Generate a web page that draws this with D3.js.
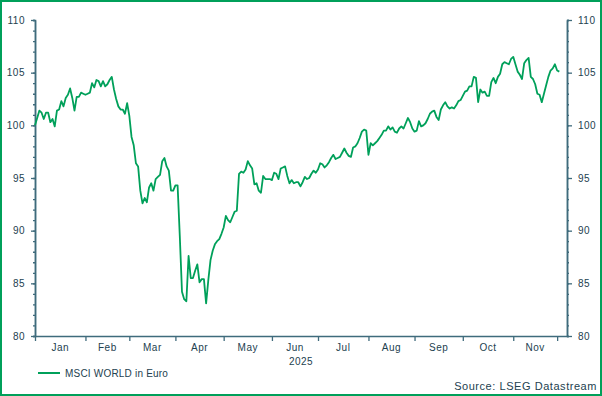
<!DOCTYPE html>
<html>
<head>
<meta charset="utf-8">
<script src="https://cdn.jsdelivr.net/npm/d3@7"></script>
<style>
  body { margin: 0; background: #fff; }
  svg { display: block; font-family: "Liberation Sans", Arial, sans-serif; }
  .tick text { fill: #23414f; font-size: 10px; letter-spacing: 0.5px; }
  .label { fill: #23414f; font-size: 10px; letter-spacing: 0.5px; }
</style>
</head>
<body>
<svg id="chart" width="602" height="396"></svg>
<script>
// MSCI World in Euro, one value per trading day (weekdays) starting 1 Jan 2025
const values = [
  100.0, 100.7, 101.4, 101.2, 100.6, 101.2, 101.2, 100.3, 100.6, 99.9,
  101.4, 101.5, 102.3, 101.8, 102.6, 102.9, 103.5, 102.6, 101.4, 102.7,
  102.7, 103.1, 103.0, 102.9, 103.0, 103.1, 104.0, 103.6, 104.3, 104.2,
  103.7, 104.2, 103.7, 103.9, 104.3, 104.6, 103.4, 102.5, 101.8, 101.5,
  101.5, 101.1, 102.1, 100.9, 98.9, 98.1, 96.4, 96.1, 93.8, 92.6,
  93.1, 92.7, 94.1, 94.5, 93.8, 94.9, 95.1, 95.3, 96.6, 96.9,
  96.1, 95.7, 93.8, 93.8, 94.3, 94.3, 89.5, 84.2, 83.5, 83.3,
  87.6, 85.5, 85.5, 86.2, 86.8, 85.1, 85.4, 85.4, 83.1, 85.3,
  87.2, 88.1, 88.7, 89.0, 89.2, 89.7, 90.3, 91.4, 91.0, 90.8,
  91.3, 91.8, 91.9, 95.4, 95.6, 95.5, 95.8, 96.6, 96.2, 95.9,
  94.4, 94.5, 93.8, 93.6, 95.2, 94.9, 94.9, 94.9, 94.8, 95.5,
  95.4, 94.9, 95.9, 96.0, 96.1, 95.2, 94.5, 94.8, 94.5, 94.6,
  94.6, 94.2, 94.6, 95.1, 94.9, 95.0, 95.4, 95.7, 95.5, 95.8,
  96.4, 96.3, 96.0, 96.2, 96.5, 96.9, 97.2, 96.8, 96.9, 97.0,
  97.4, 97.8, 97.4, 97.1, 97.0, 97.9, 98.0, 98.3, 98.8, 99.4,
  99.6, 99.5, 97.2, 98.3, 98.1, 98.3, 98.5, 98.8, 99.1, 99.5,
  99.5, 99.9, 99.6, 99.8, 99.4, 99.3, 99.7, 99.9, 99.7, 100.2,
  100.7, 100.3, 99.7, 99.4, 99.5, 100.4, 99.9, 100.0, 100.2, 100.6,
  101.1, 101.3, 101.4, 100.8, 100.5, 101.5, 101.9, 102.2, 101.8, 101.6,
  101.7, 101.6, 101.9, 102.3, 102.4, 102.8, 103.2, 103.3, 103.7, 103.7,
  104.6, 104.5, 102.2, 103.4, 103.1, 103.2, 102.8, 102.8, 104.1, 104.5,
  104.0, 104.6, 104.9, 105.8, 106.0, 105.9, 105.8, 106.3, 106.5, 105.8,
  105.1, 104.8, 104.4, 105.9, 106.2, 106.4, 104.6, 104.4, 103.9, 103.0,
  102.9, 102.2, 103.0, 103.8, 104.6, 105.2, 105.4, 105.8, 105.2, 105.1
]
const monthLabels = ['Jan', 'Feb', 'Mar', 'Apr', 'May', 'Jun', 'Jul', 'Aug', 'Sep', 'Oct', 'Nov']
const yearLabel = '2025'
const yTicks = [80, 85, 90, 95, 100, 105, 110]
const seriesName = 'MSCI WORLD in Euro'
const sourceText = 'Source: LSEG Datastream'

const green = '#00a05a'
const axisColor = '#3f6b7c'

// trading-day index of the first weekday of each month
const monthStarts = []
let idx = 0
for (let d = new Date(2025, 0, 1); d.getFullYear() === 2025; d.setDate(d.getDate() + 1)) {
  const wd = d.getDay()
  if (wd === 0 || wd === 6) continue
  if (monthStarts.length === d.getMonth()) monthStarts.push(idx)
  idx++
}

const svg = d3.select('#chart')
const x = d3.scaleLinear().domain([0, 242.5]).range([35, 567])
const y = d3.scaleLinear().domain([80, 110]).range([336, 20])

// frame
svg.append('rect')
  .attr('x', 1).attr('y', 1).attr('width', 600).attr('height', 394)
  .attr('fill', 'none').attr('stroke', green).attr('stroke-width', 2)

function styleAxis(g) {
  g.selectAll('path.domain').attr('stroke', axisColor).attr('stroke-width', 1.5)
  g.selectAll('line').attr('stroke', axisColor).attr('stroke-width', 1.3)
}

// minor ticks
const minor = d3.range(80, 111)
svg.append('g')
  .attr('transform', `translate(${x.range()[0]},0)`)
  .call(d3.axisLeft(y).tickValues(minor).tickSize(2).tickFormat(''))
  .call(styleAxis)
svg.append('g')
  .attr('transform', `translate(${x.range()[1]},0)`)
  .call(d3.axisRight(y).tickValues(minor).tickSize(2).tickFormat(''))
  .call(styleAxis)

// major ticks
svg.append('g')
  .attr('transform', `translate(${x.range()[0]},0)`)
  .call(d3.axisLeft(y).tickValues(yTicks).tickSize(4).tickPadding(6).tickSizeOuter(0))
  .call(styleAxis)
svg.append('g')
  .attr('transform', `translate(${x.range()[1]},0)`)
  .call(d3.axisRight(y).tickValues(yTicks).tickSize(5).tickPadding(6).tickSizeOuter(0))
  .call(styleAxis)

// x axis: ticks at month boundaries, labels in between
const xAxis = svg.append('g')
  .attr('transform', `translate(0,${y.range()[0]})`)
  .call(d3.axisBottom(x).tickValues(monthStarts.slice(0, 12)).tickSize(5).tickFormat('').tickSizeOuter(0))
  .call(styleAxis)

xAxis.selectAll('text.month')
  .data(monthLabels)
  .join('text')
  .attr('class', 'label month')
  .attr('x', (d, i) => (x(monthStarts[i]) + x(monthStarts[i + 1])) / 2)
  .attr('y', 15)
  .attr('text-anchor', 'middle')
  .text((d) => d)

svg.append('text')
  .attr('class', 'label')
  .attr('x', (x.range()[0] + x.range()[1]) / 2)
  .attr('y', 365)
  .attr('text-anchor', 'middle')
  .text(yearLabel)

// series
const line = d3.line()
  .x((d, i) => x(i))
  .y((d) => y(d))

svg.append('path')
  .datum(values)
  .attr('fill', 'none')
  .attr('stroke', green)
  .attr('stroke-width', 1.8)
  .attr('stroke-linejoin', 'round')
  .attr('d', line)

// legend
svg.append('line')
  .attr('x1', 38).attr('x2', 60).attr('y1', 373).attr('y2', 373)
  .attr('stroke', green).attr('stroke-width', 2)
svg.append('text')
  .attr('class', 'label')
  .attr('x', 65).attr('y', 377)
  .style('letter-spacing', '0.2px')
  .text(seriesName)

// source
svg.append('text')
  .attr('class', 'label')
  .attr('x', 597).attr('y', 390)
  .attr('text-anchor', 'end')
  .style('font-size', '11px')
  .style('letter-spacing', '0.55px')
  .text(sourceText)
</script>
</body>
</html>
